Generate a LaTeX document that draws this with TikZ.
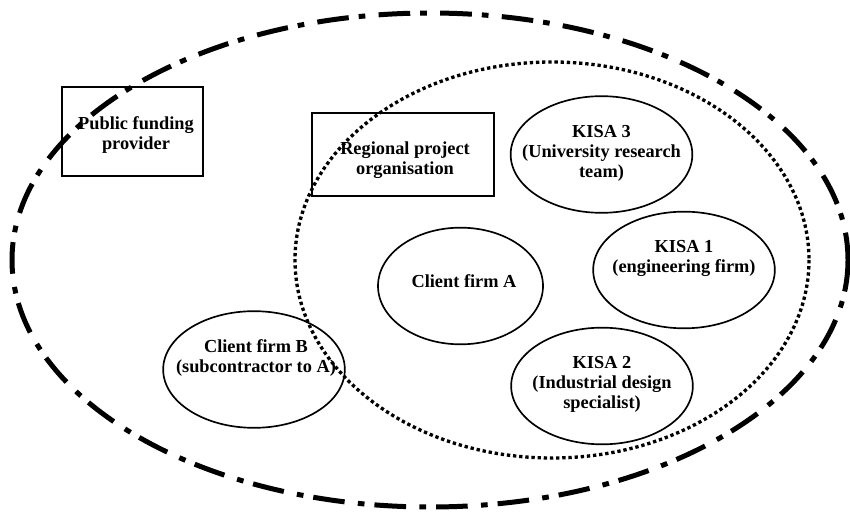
\documentclass[tikz,border=0pt]{standalone}
\usepackage{fontspec}
\setmainfont{Liberation Serif}
\usepackage{tikz}
\usetikzlibrary{shapes.geometric}

\tikzset{
  box/.style={draw, line width=0.9pt},
  firm/.style={draw, ellipse, line width=1pt, minimum width=109pt, minimum height=70pt},
  lbl/.style={align=center, inner sep=0pt, font=\bfseries\fontsize{11}{12}\selectfont},
  network/.style={line width=3pt, dash pattern={on 19pt off 6pt on 4pt off 8pt}},
  project/.style={line width=2pt, dash pattern={on 2pt off 1.7pt}}
}

\begin{document}
\begin{tikzpicture}[x=0.6pt, y=-0.6pt]
  \useasboundingbox (0,0) rectangle (850,513);

  \draw[network] (430,260) ellipse [x radius=418, y radius=247];
  \draw[project] (552,260) ellipse [x radius=257, y radius=198];

\node[box, minimum width=84.6pt, minimum height=53.4pt] (funder) at (132.5,131.5) {};
\node[lbl] (fundert) at (136,135) {Public funding\\provider};

\node[box, minimum width=109pt, minimum height=50pt] (rpo) at (403,154.5) {};
\node[lbl] (rpot) at (405,160) {Regional project\\organisation};

\node[firm] (kisa3) at (601.5,154.5) {};
\node[lbl] (kisa3t) at (601.5,153) {KISA 3\\(University research\\team)};

\node[firm] (kisa1) at (684,270) {};
\node[lbl] (kisa1t) at (684,258) {KISA 1\\(engineering firm)};

\node[firm, minimum width=99pt] (firmA) at (460.5,286) {};
\node[lbl] (firmAt) at (464,281) {Client firm A};

\node[firm] (firmB) at (254,369.5) {};
\node[lbl] (firmBt) at (256,358) {Client firm B\\(subcontractor to A)};

\node[firm] (kisa2) at (602,386) {};
\node[lbl] (kisa2t) at (602,384) {KISA 2\\(Industrial design\\specialist)};
\end{tikzpicture}
\end{document}
